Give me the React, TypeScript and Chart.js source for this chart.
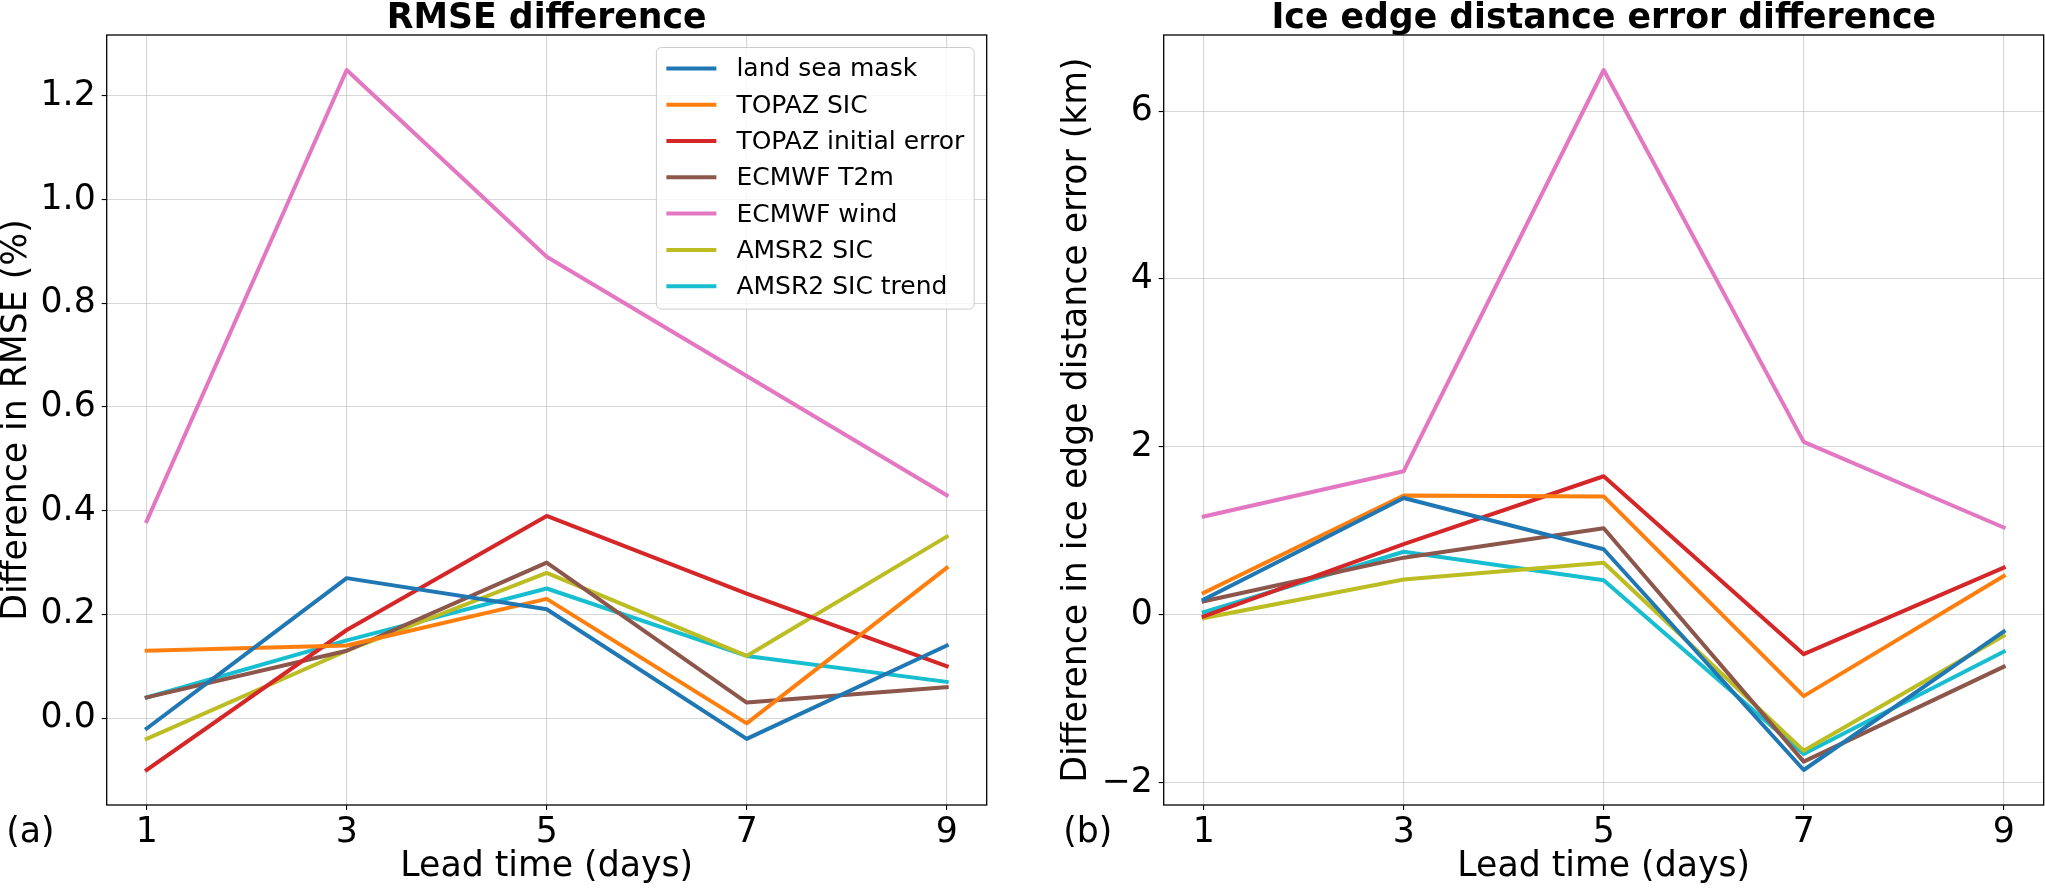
import React, { useEffect, useRef } from "react";
import { Chart, registerables } from "chart.js";

Chart.register(...registerables);

// ---------- data ----------
const leadDays = [1, 3, 5, 7, 9];

const seriesNames = [
  "land sea mask",
  "TOPAZ SIC",
  "TOPAZ initial error",
  "ECMWF T2m",
  "ECMWF wind",
  "AMSR2 SIC",
  "AMSR2 SIC trend",
];
const seriesColors = ["#1f77b4", "#ff7f0e", "#d62728", "#8c564b", "#e377c2", "#bcbd22", "#17becf"];

// (a) RMSE difference (%)
const rmseLandSeaMask = [-0.02, 0.27, 0.21, -0.04, 0.14];
const rmseTopazSic = [0.13, 0.14, 0.23, -0.01, 0.29];
const rmseTopazInitErr = [-0.1, 0.17, 0.39, 0.24, 0.1];
const rmseEcmwfT2m = [0.04, 0.13, 0.3, 0.03, 0.06];
const rmseEcmwfWind = [0.38, 1.25, 0.89, 0.66, 0.43];
const rmseAmsr2Sic = [-0.04, 0.13, 0.28, 0.12, 0.35];
const rmseAmsr2SicTrend = [0.04, 0.15, 0.25, 0.12, 0.07];

// (b) Ice edge distance error difference (km)
const iceLandSeaMask = [0.18, 1.39, 0.78, -1.85, -0.2];
const iceTopazSic = [0.26, 1.42, 1.41, -0.97, 0.46];
const iceTopazInitErr = [-0.02, 0.84, 1.65, -0.47, 0.56];
const iceEcmwfT2m = [0.16, 0.68, 1.03, -1.75, -0.62];
const iceEcmwfWind = [1.17, 1.71, 6.49, 2.06, 1.04];
const iceAmsr2Sic = [-0.04, 0.42, 0.62, -1.62, -0.25];
const iceAmsr2SicTrend = [0.03, 0.75, 0.41, -1.66, -0.44];

const rmseTicks = [0, 0.2, 0.4, 0.6, 0.8, 1.0, 1.2];
const iceTicks = [-2, 0, 2, 4, 6];

// ---------- styling ----------
const FS = 34.7;
const LFS = 25;
const FONT = '"DejaVu Sans", sans-serif';
const GRID = "rgba(176,176,176,0.5)";

Chart.defaults.font.family = FONT;
Chart.defaults.color = "#000";

type PanelSpec = {
  series: number[][];
  ticks: number[];
  fmt: (v: number) => string;
  yTitle: string;
  title: string;
  panel: string;
  legend: boolean;
  yAxisWidth: number;
  padRight: number;
};

function decorPlugin(p: PanelSpec) {
  return {
    id: "decor",
    afterDraw(chart: any) {
      const ctx = chart.ctx as CanvasRenderingContext2D;
      const ca = chart.chartArea;
      ctx.save();
      // spines
      ctx.strokeStyle = "#000";
      ctx.lineWidth = 1.3;
      ctx.strokeRect(ca.left, ca.top, ca.right - ca.left, ca.bottom - ca.top);
      // title
      ctx.fillStyle = "#000";
      ctx.font = `bold ${FS}px ${FONT}`;
      ctx.textAlign = "center";
      ctx.textBaseline = "alphabetic";
      ctx.fillText(p.title, (ca.left + ca.right) / 2, ca.top - 6.7);
      // panel label
      ctx.font = `${FS}px ${FONT}`;
      ctx.textAlign = "left";
      ctx.textBaseline = "middle";
      ctx.fillText(p.panel, ca.left - 100.5, ca.bottom + 28);
      // legend
      if (p.legend) {
        const items = chart.data.datasets;
        ctx.font = `${LFS}px ${FONT}`;
        const maxW = Math.max(...items.map((d: any) => ctx.measureText(d.label).width));
        const pad = 10, handle = 50, gap = 20, pitch = 36.3, textH = 23.8;
        const w = pad + handle + gap + maxW + pad;
        const h = 2 * pad + items.length * textH + (items.length - 1) * (pitch - textH);
        const right = ca.right - 12.5;
        const top = ca.top + 12.5;
        const left = right - w;
        const r = 5;
        ctx.beginPath();
        ctx.moveTo(left + r, top);
        ctx.lineTo(right - r, top);
        ctx.arcTo(right, top, right, top + r, r);
        ctx.lineTo(right, top + h - r);
        ctx.arcTo(right, top + h, right - r, top + h, r);
        ctx.lineTo(left + r, top + h);
        ctx.arcTo(left, top + h, left, top + h - r, r);
        ctx.lineTo(left, top + r);
        ctx.arcTo(left, top, left + r, top, r);
        ctx.closePath();
        ctx.fillStyle = "rgba(255,255,255,0.8)";
        ctx.fill();
        ctx.strokeStyle = "#cccccc";
        ctx.lineWidth = 1;
        ctx.stroke();
        items.forEach((d: any, i: number) => {
          const cy = top + pad + textH / 2 + i * pitch - 1;
          ctx.beginPath();
          ctx.strokeStyle = d.borderColor;
          ctx.lineWidth = 4;
          ctx.lineCap = "butt";
          ctx.moveTo(left + pad, cy);
          ctx.lineTo(left + pad + handle, cy);
          ctx.stroke();
          ctx.fillStyle = "#000";
          ctx.textAlign = "left";
          ctx.textBaseline = "middle";
          ctx.fillText(d.label, left + pad + handle + gap, cy + 1.5);
        });
      }
      ctx.restore();
    },
  };
}

function makeConfig(p: PanelSpec): any {
  const all = p.series.flat();
  const ymin = Math.min(...all);
  const ymax = Math.max(...all);
  const yr = ymax - ymin;
  const xr = leadDays[leadDays.length - 1] - leadDays[0];
  const gridOpts = {
    color: GRID,
    lineWidth: 1.1,
    drawTicks: true,
    tickColor: "#000",
    tickLength: 5,
    tickWidth: 1.1,
  };
  return {
    type: "line",
    data: {
      datasets: p.series.map((vals, i) => ({
        label: seriesNames[i],
        data: leadDays.map((d, j) => ({ x: d, y: vals[j] })),
        borderColor: seriesColors[i],
        backgroundColor: seriesColors[i],
        borderWidth: 4,
        pointRadius: 0,
        pointHoverRadius: 0,
        tension: 0,
        fill: false,
        borderJoinStyle: "round",
        borderCapStyle: "square",
      })),
    },
    options: {
      responsive: false,
      animation: false,
      events: [],
      layout: { padding: { top: 35, right: p.padRight, left: 0, bottom: 0 } },
      plugins: {
        legend: { display: false },
        title: { display: false },
        tooltip: { enabled: false },
      },
      scales: {
        x: {
          type: "linear",
          min: leadDays[0] - 0.05 * xr,
          max: leadDays[leadDays.length - 1] + 0.05 * xr,
          afterBuildTicks: (s: any) => {
            s.ticks = leadDays.map((v) => ({ value: v }));
          },
          afterFit: (s: any) => {
            s.height = 84;
          },
          grid: gridOpts,
          border: { display: false },
          ticks: {
            font: { size: FS },
            color: "#000",
            padding: 2,
            maxRotation: 0,
            autoSkip: false,
            callback: (v: any) => String(v),
          },
          title: {
            display: true,
            text: "Lead time (days)",
            font: { size: FS, lineHeight: 1.2 },
            color: "#000",
            padding: { top: 0, bottom: 1 },
          },
        },
        y: {
          type: "linear",
          min: ymin - 0.05 * yr,
          max: ymax + 0.05 * yr,
          afterBuildTicks: (s: any) => {
            s.ticks = p.ticks.map((v) => ({ value: v }));
          },
          afterFit: (s: any) => {
            s.width = p.yAxisWidth;
          },
          grid: gridOpts,
          border: { display: false },
          ticks: {
            font: { size: FS },
            color: "#000",
            padding: 6,
            autoSkip: false,
            callback: (v: any) => p.fmt(Number(v)),
          },
          title: {
            display: true,
            text: p.yTitle,
            font: { size: FS, lineHeight: 1.0 },
            color: "#000",
            padding: 0,
          },
        },
      },
    },
    plugins: [decorPlugin(p)],
  };
}

export default function App() {
  const ref1 = useRef<HTMLCanvasElement | null>(null);
  const ref2 = useRef<HTMLCanvasElement | null>(null);

  useEffect(() => {
    const specA: PanelSpec = {
      series: [rmseLandSeaMask, rmseTopazSic, rmseTopazInitErr, rmseEcmwfT2m, rmseEcmwfWind, rmseAmsr2Sic, rmseAmsr2SicTrend],
      ticks: rmseTicks,
      fmt: (v) => v.toFixed(1),
      yTitle: "Difference in RMSE (%)",
      title: "RMSE difference",
      panel: "(a)",
      legend: true,
      yAxisWidth: 106.7,
      padRight: 73.3,
    };
    const specB: PanelSpec = {
      series: [iceLandSeaMask, iceTopazSic, iceTopazInitErr, iceEcmwfT2m, iceEcmwfWind, iceAmsr2Sic, iceAmsr2SicTrend],
      ticks: iceTicks,
      fmt: (v) => (v < 0 ? "\u2212" + Math.abs(v) : String(v)),
      yTitle: "Difference in ice edge distance error (km)",
      title: "Ice edge distance error difference",
      panel: "(b)",
      legend: false,
      yAxisWidth: 103.7,
      padRight: 1.3,
    };
    const c1 = new Chart(ref1.current as HTMLCanvasElement, makeConfig(specA));
    const c2 = new Chart(ref2.current as HTMLCanvasElement, makeConfig(specB));
    return () => {
      c1.destroy();
      c2.destroy();
    };
  }, []);

  return (
    <div style={{ position: "absolute", left: 0, top: 0, width: 2045, height: 889, background: "#fff" }}>
      <canvas
        ref={ref1}
        width={1060}
        height={889}
        style={{ position: "absolute", left: 0, top: 0, width: 1060, height: 889 }}
      />
      <canvas
        ref={ref2}
        width={985}
        height={889}
        style={{ position: "absolute", left: 1060, top: 0, width: 985, height: 889 }}
      />
    </div>
  );
}
